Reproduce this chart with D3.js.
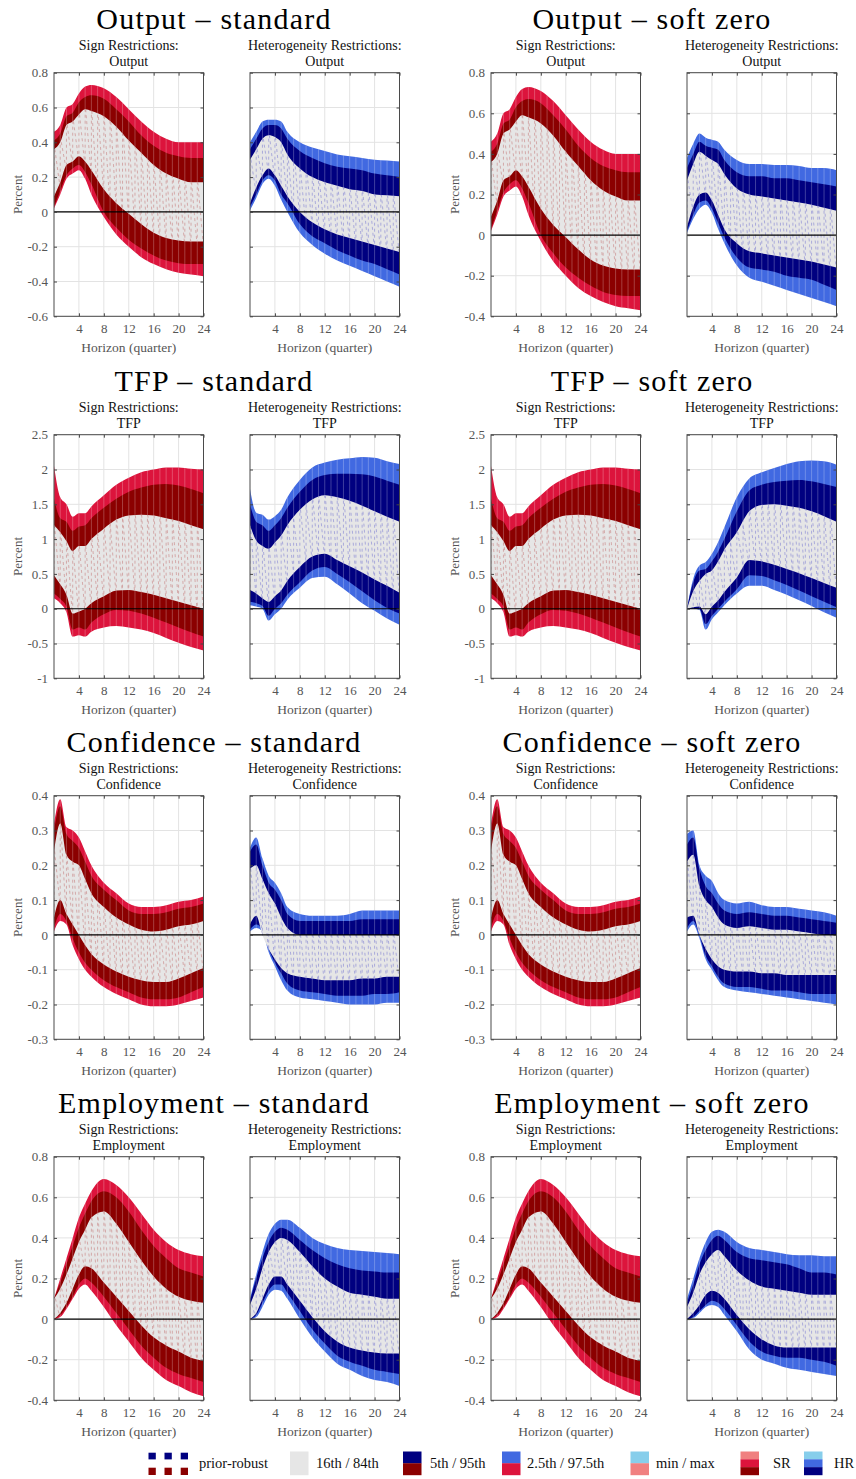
<!DOCTYPE html>
<html>
<head>
<meta charset="utf-8">
<script src="https://cdn.jsdelivr.net/npm/d3@7"></script>
<style>
  body { margin: 0; background: #fff; }
  text { font-family: "Liberation Serif", "Times New Roman", serif; }
</style>
</head>
<body>
<div id="chart"></div>
<script>
var horizons = [0, 1, 2, 3, 4, 5, 6, 8, 10, 12, 14, 16, 18, 20, 22, 24];

// each panel: [q2.5, q5, q16, q84, q95, q97.5]
var outputSR = [
  [0.02, 0.10, 0.19, 0.22, 0.24, 0.19, 0.10, -0.03, -0.13, -0.20, -0.26, -0.30, -0.33, -0.35, -0.36, -0.37],
  [0.03, 0.12, 0.21, 0.25, 0.27, 0.23, 0.16, 0.00, -0.09, -0.16, -0.21, -0.25, -0.28, -0.295, -0.30, -0.30],
  [0.09, 0.17, 0.27, 0.29, 0.32, 0.29, 0.24, 0.13, 0.05, -0.01, -0.07, -0.12, -0.15, -0.165, -0.17, -0.17],
  [0.36, 0.40, 0.50, 0.52, 0.56, 0.59, 0.58, 0.55, 0.49, 0.41, 0.34, 0.27, 0.22, 0.19, 0.17, 0.17],
  [0.41, 0.45, 0.55, 0.57, 0.63, 0.66, 0.67, 0.65, 0.59, 0.52, 0.44, 0.38, 0.34, 0.32, 0.31, 0.31],
  [0.46, 0.50, 0.60, 0.62, 0.68, 0.72, 0.73, 0.71, 0.66, 0.59, 0.52, 0.46, 0.42, 0.40, 0.40, 0.40]
];
var outputHR = [
  [0.01, 0.08, 0.16, 0.19, 0.15, 0.07, 0.00, -0.12, -0.19, -0.24, -0.28, -0.31, -0.34, -0.37, -0.40, -0.43],
  [0.03, 0.10, 0.18, 0.21, 0.18, 0.10, 0.05, -0.07, -0.14, -0.18, -0.22, -0.25, -0.28, -0.30, -0.33, -0.36],
  [0.05, 0.14, 0.21, 0.25, 0.21, 0.15, 0.09, 0.00, -0.06, -0.10, -0.13, -0.15, -0.17, -0.19, -0.21, -0.23],
  [0.30, 0.36, 0.42, 0.44, 0.43, 0.40, 0.33, 0.25, 0.20, 0.17, 0.15, 0.13, 0.12, 0.10, 0.095, 0.09],
  [0.36, 0.42, 0.48, 0.50, 0.50, 0.48, 0.42, 0.35, 0.31, 0.28, 0.26, 0.25, 0.24, 0.22, 0.21, 0.20],
  [0.40, 0.46, 0.52, 0.53, 0.53, 0.52, 0.46, 0.40, 0.37, 0.35, 0.33, 0.32, 0.31, 0.30, 0.295, 0.29]
];
var outputHRsoft = [
  [0.01, 0.08, 0.13, 0.15, 0.11, 0.03, -0.04, -0.15, -0.21, -0.23, -0.25, -0.27, -0.29, -0.31, -0.33, -0.35],
  [0.02, 0.10, 0.16, 0.17, 0.13, 0.06, -0.01, -0.11, -0.16, -0.17, -0.18, -0.20, -0.21, -0.22, -0.245, -0.27],
  [0.04, 0.14, 0.20, 0.21, 0.17, 0.10, 0.03, -0.04, -0.08, -0.09, -0.10, -0.11, -0.12, -0.13, -0.145, -0.16],
  [0.27, 0.35, 0.41, 0.39, 0.37, 0.35, 0.30, 0.23, 0.20, 0.19, 0.18, 0.17, 0.16, 0.15, 0.135, 0.12],
  [0.33, 0.40, 0.46, 0.44, 0.43, 0.42, 0.37, 0.31, 0.29, 0.29, 0.28, 0.28, 0.27, 0.26, 0.25, 0.24],
  [0.38, 0.45, 0.50, 0.48, 0.47, 0.46, 0.42, 0.37, 0.35, 0.35, 0.345, 0.345, 0.34, 0.33, 0.33, 0.32]
];
var tfpSR = [
  [0.15, 0.08, -0.05, -0.40, -0.38, -0.40, -0.33, -0.27, -0.25, -0.27, -0.30, -0.35, -0.42, -0.49, -0.55, -0.60],
  [0.22, 0.14, 0.03, -0.30, -0.27, -0.30, -0.20, -0.08, -0.02, -0.03, -0.07, -0.13, -0.20, -0.27, -0.34, -0.40],
  [0.48, 0.35, 0.20, -0.07, -0.04, 0.00, 0.08, 0.18, 0.26, 0.27, 0.24, 0.20, 0.15, 0.10, 0.05, 0.00],
  [1.20, 1.10, 0.97, 0.83, 0.90, 0.90, 1.00, 1.15, 1.28, 1.34, 1.35, 1.34, 1.30, 1.26, 1.20, 1.14],
  [1.58, 1.30, 1.25, 1.12, 1.18, 1.20, 1.30, 1.45, 1.58, 1.68, 1.74, 1.78, 1.79, 1.77, 1.72, 1.66],
  [2.05, 1.60, 1.50, 1.32, 1.37, 1.37, 1.47, 1.63, 1.78, 1.88, 1.96, 2.00, 2.03, 2.03, 2.01, 2.00]
];
var tfpHR = [
  [0.05, 0.03, 0.00, -0.17, -0.08, 0.00, 0.13, 0.30, 0.44, 0.46, 0.35, 0.22, 0.08, -0.03, -0.14, -0.23],
  [0.10, 0.08, 0.04, -0.10, 0.00, 0.08, 0.20, 0.38, 0.55, 0.60, 0.50, 0.38, 0.25, 0.12, 0.01, -0.07],
  [0.27, 0.22, 0.15, 0.10, 0.18, 0.26, 0.40, 0.60, 0.75, 0.79, 0.70, 0.61, 0.52, 0.42, 0.33, 0.23],
  [1.20, 0.98, 0.90, 0.86, 0.95, 1.05, 1.20, 1.42, 1.57, 1.63, 1.60, 1.55, 1.48, 1.40, 1.32, 1.25],
  [1.50, 1.25, 1.20, 1.12, 1.20, 1.30, 1.45, 1.68, 1.85, 1.92, 1.94, 1.94, 1.93, 1.90, 1.84, 1.78],
  [1.72, 1.38, 1.35, 1.28, 1.33, 1.42, 1.60, 1.85, 2.03, 2.10, 2.14, 2.16, 2.18, 2.17, 2.12, 2.08]
];
var tfpHRsoft = [
  [0.00, 0.00, -0.02, -0.30, -0.15, -0.05, 0.05, 0.22, 0.33, 0.33, 0.27, 0.20, 0.12, 0.04, -0.05, -0.13],
  [0.00, 0.00, 0.00, -0.22, -0.10, 0.00, 0.10, 0.28, 0.48, 0.47, 0.41, 0.34, 0.26, 0.18, 0.10, 0.02],
  [0.00, 0.02, 0.03, -0.08, 0.03, 0.12, 0.24, 0.45, 0.70, 0.68, 0.63, 0.57, 0.51, 0.44, 0.37, 0.30],
  [0.00, 0.25, 0.40, 0.50, 0.55, 0.68, 0.85, 1.10, 1.40, 1.49, 1.50, 1.48, 1.45, 1.40, 1.33, 1.25],
  [0.00, 0.38, 0.55, 0.57, 0.68, 0.82, 1.00, 1.40, 1.70, 1.78, 1.82, 1.84, 1.85, 1.83, 1.79, 1.75],
  [0.00, 0.43, 0.62, 0.67, 0.79, 0.96, 1.17, 1.60, 1.87, 1.96, 2.02, 2.08, 2.12, 2.13, 2.12, 2.07]
];
var confSR = [
  [0.01, 0.04, 0.03, -0.03, -0.07, -0.10, -0.12, -0.15, -0.17, -0.185, -0.20, -0.205, -0.205, -0.20, -0.19, -0.18],
  [0.02, 0.06, 0.04, -0.01, -0.05, -0.08, -0.10, -0.13, -0.15, -0.165, -0.18, -0.185, -0.185, -0.18, -0.165, -0.15],
  [0.05, 0.10, 0.06, 0.03, 0.00, -0.03, -0.055, -0.085, -0.105, -0.12, -0.13, -0.135, -0.135, -0.125, -0.11, -0.095],
  [0.24, 0.32, 0.23, 0.21, 0.20, 0.16, 0.12, 0.08, 0.05, 0.03, 0.015, 0.01, 0.015, 0.025, 0.03, 0.04],
  [0.30, 0.37, 0.29, 0.27, 0.25, 0.21, 0.17, 0.13, 0.10, 0.07, 0.06, 0.06, 0.065, 0.075, 0.08, 0.09],
  [0.32, 0.39, 0.31, 0.30, 0.28, 0.24, 0.20, 0.15, 0.12, 0.09, 0.08, 0.08, 0.085, 0.095, 0.10, 0.11]
];
var confHR = [
  [0.01, 0.02, 0.01, -0.05, -0.09, -0.13, -0.16, -0.18, -0.185, -0.19, -0.195, -0.20, -0.20, -0.20, -0.195, -0.195],
  [0.015, 0.03, 0.015, -0.04, -0.08, -0.11, -0.14, -0.16, -0.165, -0.17, -0.175, -0.175, -0.175, -0.17, -0.17, -0.165],
  [0.03, 0.055, 0.00, -0.04, -0.07, -0.095, -0.11, -0.12, -0.125, -0.13, -0.13, -0.13, -0.125, -0.125, -0.12, -0.12],
  [0.19, 0.20, 0.16, 0.12, 0.09, 0.05, 0.02, 0.00, 0.00, 0.00, 0.00, 0.00, 0.00, 0.00, 0.00, 0.00],
  [0.24, 0.26, 0.20, 0.15, 0.13, 0.10, 0.06, 0.04, 0.04, 0.04, 0.04, 0.04, 0.045, 0.045, 0.045, 0.045],
  [0.25, 0.28, 0.22, 0.17, 0.15, 0.12, 0.08, 0.06, 0.055, 0.055, 0.055, 0.06, 0.07, 0.07, 0.07, 0.07]
];
var confHRsoft = [
  [0.01, 0.03, -0.01, -0.07, -0.10, -0.13, -0.15, -0.16, -0.165, -0.17, -0.175, -0.18, -0.185, -0.19, -0.195, -0.20],
  [0.02, 0.04, 0.00, -0.06, -0.09, -0.12, -0.14, -0.15, -0.15, -0.155, -0.16, -0.16, -0.165, -0.17, -0.17, -0.17],
  [0.05, 0.055, 0.00, -0.04, -0.07, -0.09, -0.10, -0.105, -0.105, -0.11, -0.11, -0.115, -0.115, -0.115, -0.115, -0.115],
  [0.21, 0.23, 0.14, 0.10, 0.08, 0.05, 0.03, 0.02, 0.025, 0.02, 0.015, 0.015, 0.01, 0.005, 0.00, 0.00],
  [0.26, 0.28, 0.19, 0.14, 0.12, 0.09, 0.07, 0.06, 0.065, 0.06, 0.055, 0.055, 0.05, 0.045, 0.04, 0.035],
  [0.29, 0.30, 0.20, 0.17, 0.155, 0.12, 0.10, 0.09, 0.095, 0.085, 0.08, 0.08, 0.075, 0.07, 0.065, 0.055]
];
var emplSR = [
  [0.00, 0.01, 0.05, 0.10, 0.15, 0.17, 0.14, 0.06, -0.03, -0.11, -0.19, -0.25, -0.30, -0.33, -0.36, -0.38],
  [0.00, 0.02, 0.06, 0.11, 0.17, 0.20, 0.18, 0.11, 0.03, -0.05, -0.13, -0.19, -0.24, -0.27, -0.29, -0.31],
  [0.00, 0.03, 0.08, 0.15, 0.22, 0.26, 0.25, 0.18, 0.11, 0.04, -0.03, -0.09, -0.13, -0.16, -0.19, -0.205],
  [0.10, 0.15, 0.22, 0.30, 0.38, 0.44, 0.50, 0.53, 0.47, 0.38, 0.29, 0.21, 0.15, 0.11, 0.09, 0.08],
  [0.10, 0.18, 0.27, 0.36, 0.45, 0.52, 0.58, 0.63, 0.60, 0.53, 0.44, 0.36, 0.30, 0.25, 0.23, 0.21],
  [0.10, 0.20, 0.30, 0.40, 0.50, 0.57, 0.63, 0.69, 0.66, 0.60, 0.52, 0.44, 0.38, 0.34, 0.32, 0.31]
];
var emplHR = [
  [0.00, 0.01, 0.06, 0.12, 0.145, 0.14, 0.10, 0.00, -0.09, -0.16, -0.22, -0.25, -0.28, -0.30, -0.31, -0.33],
  [0.00, 0.02, 0.08, 0.14, 0.17, 0.17, 0.13, 0.04, -0.05, -0.12, -0.18, -0.21, -0.23, -0.25, -0.26, -0.27],
  [0.00, 0.03, 0.10, 0.17, 0.21, 0.21, 0.17, 0.09, 0.01, -0.06, -0.11, -0.14, -0.155, -0.165, -0.17, -0.17],
  [0.07, 0.15, 0.25, 0.33, 0.38, 0.40, 0.39, 0.33, 0.26, 0.20, 0.16, 0.13, 0.12, 0.11, 0.10, 0.10],
  [0.09, 0.20, 0.30, 0.38, 0.43, 0.45, 0.44, 0.39, 0.34, 0.30, 0.27, 0.25, 0.24, 0.235, 0.23, 0.23],
  [0.10, 0.22, 0.33, 0.42, 0.47, 0.49, 0.49, 0.45, 0.40, 0.37, 0.35, 0.34, 0.335, 0.33, 0.325, 0.32]
];
var emplHRsoft = [
  [0.00, 0.005, 0.03, 0.06, 0.07, 0.06, 0.02, -0.06, -0.15, -0.20, -0.22, -0.24, -0.25, -0.26, -0.27, -0.28],
  [0.00, 0.01, 0.04, 0.07, 0.09, 0.08, 0.05, -0.03, -0.11, -0.16, -0.18, -0.19, -0.19, -0.20, -0.21, -0.23],
  [0.00, 0.03, 0.07, 0.12, 0.14, 0.13, 0.10, 0.02, -0.05, -0.10, -0.13, -0.14, -0.14, -0.14, -0.14, -0.14],
  [0.06, 0.13, 0.22, 0.28, 0.32, 0.34, 0.31, 0.24, 0.19, 0.16, 0.15, 0.14, 0.13, 0.12, 0.12, 0.12],
  [0.08, 0.17, 0.27, 0.34, 0.39, 0.41, 0.39, 0.33, 0.30, 0.29, 0.28, 0.27, 0.25, 0.23, 0.23, 0.22],
  [0.10, 0.20, 0.30, 0.38, 0.43, 0.44, 0.43, 0.38, 0.35, 0.34, 0.33, 0.32, 0.315, 0.315, 0.31, 0.31]
];

// tick labels
var xTicks = [4, 8, 12, 16, 20, 24];
var yTicksOutput = [-0.6, -0.4, -0.2, 0, 0.2, 0.4, 0.6, 0.8];
var yTicksOutputSoft = [-0.4, -0.2, 0, 0.2, 0.4, 0.6, 0.8];
var yTicksTFP = [-1, -0.5, 0, 0.5, 1, 1.5, 2, 2.5];
var yTicksConf = [-0.3, -0.2, -0.1, 0, 0.1, 0.2, 0.3, 0.4];
var yTicksEmpl = [-0.4, -0.2, 0, 0.2, 0.4, 0.6, 0.8];

var shocks = ["Output", "TFP", "Confidence", "Employment"];
var variants = ["standard", "soft zero"];

// Set up our chart area
//================================
var svgWidth = 856;
var svgHeight = 1479;

var svg = d3.select("#chart")
  .append("svg")
  .attr("width", svgWidth)
  .attr("height", svgHeight);

var rowTop = [72.7, 434.7, 795.7, 1156.7];
var panelW = 149.5;
var panelH = 243.6;
var groupLeft = [54, 491];
var hrOffset = 196;
var titleCenter = [214, 652];

var colors = {
  SR: { outer: "#DC143C", inner: "#8B0000", dash: "#cc8f8f" },
  HR: { outer: "#4169E1", inner: "#000080", dash: "#9090d6" },
  gray: "#E6E6E6"
};

var fmt = function(d) { return String(Math.round(d * 10) / 10); };

// rows: [SR data, HR standard, HR soft zero, y ticks standard, y ticks soft zero]
var rows = [
  [outputSR, outputHR, outputHRsoft, yTicksOutput, yTicksOutputSoft],
  [tfpSR, tfpHR, tfpHRsoft, yTicksTFP, yTicksTFP],
  [confSR, confHR, confHRsoft, yTicksConf, yTicksConf],
  [emplSR, emplHR, emplHRsoft, yTicksEmpl, yTicksEmpl]
];

var xScale = d3.scaleLinear().domain([0, 24]).range([0, panelW]);
var idx = d3.range(horizons.length);
var quarters = d3.range(0, 25);
var panelCount = 0;

function drawPanel(left, top, bands, yTicks, type, showY, subtitle) {
  var id = panelCount++;
  var g = svg.append("g").attr("transform", `translate(${left}, ${top})`);
  var yScale = d3.scaleLinear()
    .domain([yTicks[0], yTicks[yTicks.length - 1]])
    .range([panelH, 0]);

  function band(lo, hi) {
    return d3.area()
      .x(i => xScale(horizons[i]))
      .y0(i => yScale(bands[lo][i]))
      .y1(i => yScale(bands[hi][i]))
      .curve(d3.curveMonotoneX)(idx);
  }

  var defs = g.append("defs");
  defs.append("clipPath").attr("id", "outer" + id).append("path").attr("d", band(0, 5));
  defs.append("clipPath").attr("id", "mid" + id).append("path").attr("d", band(2, 3));

  // grid
  g.append("g").selectAll("line").data(xTicks).enter().append("line")
    .attr("x1", d => xScale(d)).attr("x2", d => xScale(d))
    .attr("y1", 0).attr("y2", panelH)
    .attr("stroke", "#e3e3e3").attr("stroke-width", 1);
  g.append("g").selectAll("line").data(yTicks).enter().append("line")
    .attr("x1", 0).attr("x2", panelW)
    .attr("y1", d => yScale(d)).attr("y2", d => yScale(d))
    .attr("stroke", "#e3e3e3").attr("stroke-width", 1);

  // bands
  g.append("path").attr("d", band(0, 5)).attr("fill", colors[type].outer);
  g.append("path").attr("d", band(1, 4)).attr("fill", colors[type].inner);

  // patch seams
  g.append("g").attr("clip-path", `url(#outer${id})`)
    .selectAll("line").data(quarters).enter().append("line")
    .attr("x1", d => xScale(d)).attr("x2", d => xScale(d))
    .attr("y1", 0).attr("y2", panelH)
    .attr("stroke", "#fff").attr("stroke-opacity", 0.35).attr("stroke-width", 0.7);

  g.append("path").attr("d", band(2, 3)).attr("fill", colors.gray);

  // prior-robust dashed lines: verticals plus the zigzag to the next quarter
  var robust = g.append("g").attr("clip-path", `url(#mid${id})`);
  robust.selectAll(".vert").data(quarters).enter().append("line")
    .attr("class", "vert")
    .attr("x1", d => xScale(d)).attr("x2", d => xScale(d))
    .attr("y1", 0).attr("y2", panelH)
    .attr("stroke", colors[type].dash).attr("stroke-width", 0.7)
    .attr("stroke-dasharray", "3,3");
  var diag = quarters.slice(0, 24).map(function(h) {
    var k0 = d3.bisectRight(horizons, h) - 1;
    var k1 = d3.bisectLeft(horizons, h + 1);
    return [h, bands[3][k0], bands[2][k1]];
  });
  robust.selectAll(".diag").data(diag).enter().append("line")
    .attr("class", "diag")
    .attr("x1", d => xScale(d[0])).attr("x2", d => xScale(d[0] + 1))
    .attr("y1", d => yScale(d[1]) - 6).attr("y2", d => yScale(d[2]) + 6)
    .attr("stroke", colors[type].dash).attr("stroke-width", 0.7)
    .attr("stroke-dasharray", "3,3");

  // zero line
  g.append("line")
    .attr("x1", 0).attr("x2", panelW)
    .attr("y1", yScale(0)).attr("y2", yScale(0))
    .attr("stroke", "#000").attr("stroke-width", 1.1);

  // inside ticks on all four sides
  var tickSides = [
    [d3.axisRight(yScale).tickValues(yTicks), `translate(0,0)`],
    [d3.axisLeft(yScale).tickValues(yTicks), `translate(${panelW},0)`],
    [d3.axisTop(xScale).tickValues(xTicks), `translate(0,${panelH})`],
    [d3.axisBottom(xScale).tickValues(xTicks), `translate(0,0)`]
  ];
  tickSides.forEach(function(t) {
    var a = g.append("g").attr("transform", t[1])
      .call(t[0].tickSize(3).tickFormat(""));
    a.select(".domain").remove();
    a.selectAll("line").attr("stroke", "#444");
  });

  // box
  g.append("rect")
    .attr("width", panelW).attr("height", panelH)
    .attr("fill", "none").attr("stroke", "#4a4a4a").attr("stroke-width", 1);

  // tick labels
  var xAxis = g.append("g").attr("transform", `translate(0, ${panelH})`)
    .call(d3.axisBottom(xScale).tickValues(xTicks).tickSize(0).tickPadding(7).tickFormat(d3.format("d")));
  xAxis.select(".domain").remove();
  xAxis.selectAll("text").attr("font-size", 13).attr("fill", "#555");

  g.append("text")
    .attr("x", panelW / 2).attr("y", panelH + 36)
    .attr("text-anchor", "middle").attr("font-size", 13.5).attr("fill", "#555")
    .text("Horizon (quarter)");

  if (showY) {
    var yAxis = g.append("g")
      .call(d3.axisLeft(yScale).tickValues(yTicks).tickSize(0).tickPadding(6).tickFormat(fmt));
    yAxis.select(".domain").remove();
    yAxis.selectAll("text").attr("font-size", 13).attr("fill", "#555");

    g.append("text")
      .attr("transform", `translate(-32, ${panelH / 2}) rotate(-90)`)
      .attr("text-anchor", "middle").attr("font-size", 13).attr("fill", "#555")
      .text("Percent");
  }

  // panel title
  g.append("text")
    .attr("x", panelW / 2).attr("y", -23)
    .attr("text-anchor", "middle").attr("font-size", 14).attr("fill", "#111")
    .text(type === "SR" ? "Sign Restrictions:" : "Heterogeneity Restrictions:");
  g.append("text")
    .attr("x", panelW / 2).attr("y", -6.5)
    .attr("text-anchor", "middle").attr("font-size", 14).attr("fill", "#111")
    .text(subtitle);
}

rows.forEach(function(r, ri) {
  variants.forEach(function(v, vi) {
    var ticks = vi === 0 ? r[3] : r[4];
    var hr = vi === 0 ? r[1] : r[2];
    drawPanel(groupLeft[vi], rowTop[ri], r[0], ticks, "SR", true, shocks[ri]);
    drawPanel(groupLeft[vi] + hrOffset, rowTop[ri], hr, ticks, "HR", false, shocks[ri]);

    svg.append("text")
      .attr("x", titleCenter[vi]).attr("y", rowTop[ri] - 44)
      .attr("text-anchor", "middle").attr("font-size", 30).attr("fill", "#000")
      .attr("letter-spacing", 1.2)
      .text(shocks[ri] + " \u2013 " + v);
  });
});

// Legend
//================================
var legend = svg.append("g");
var legY = 1451.5;
var legH = 23.5;

// prior-robust icon: dotted squares
[148.5, 164.5, 180.7].forEach(function(x0) {
  legend.append("rect").attr("x", x0).attr("y", 1452.7).attr("width", 7.3).attr("height", 6.7).attr("fill", colors.HR.inner);
  legend.append("rect").attr("x", x0).attr("y", 1467.7).attr("width", 7.3).attr("height", 7.3).attr("fill", colors.SR.inner);
});

var swatches = [
  { x: 290, fills: [colors.gray] },
  { x: 403, fills: [colors.HR.inner, colors.SR.inner] },
  { x: 502, fills: [colors.HR.outer, colors.SR.outer] },
  { x: 630.5, fills: ["#87CEEB", "#F08080"] },
  { x: 740.5, fills: ["#F08080", colors.SR.outer, colors.SR.inner] },
  { x: 804, fills: ["#87CEEB", colors.HR.outer, colors.HR.inner] }
];
swatches.forEach(function(s) {
  var n = s.fills.length;
  s.fills.forEach(function(f, i) {
    legend.append("rect")
      .attr("x", s.x).attr("y", legY + i * legH / n)
      .attr("width", 18.5).attr("height", legH / n + 0.2)
      .attr("fill", f);
  });
});

var legendText = [
  [199, "prior-robust"],
  [316, "16th / 84th"],
  [430, "5th / 95th"],
  [527, "2.5th / 97.5th"],
  [656, "min / max"],
  [773, "SR"],
  [834, "HR"]
];
legend.selectAll(".legText").data(legendText).enter().append("text")
  .attr("class", "legText")
  .attr("x", d => d[0]).attr("y", 1467.5)
  .attr("font-size", 14.5).attr("fill", "#111")
  .text(d => d[1]);
</script>
</body>
</html>
